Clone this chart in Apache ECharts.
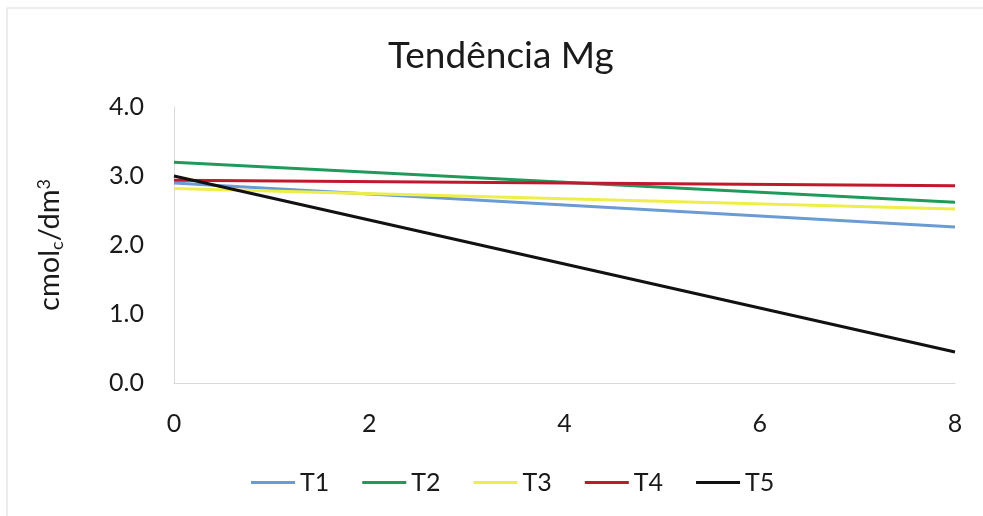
<!DOCTYPE html>
<html>
<head>
<meta charset="utf-8">
<script src="https://cdn.jsdelivr.net/npm/echarts@6/dist/echarts.min.js"></script>
<style>
html,body{margin:0;padding:0;background:#fff;}
#c{width:983px;height:516px;}
</style>
</head>
<body>
<div id="c"></div>
<script>
const xValues = [0, 8];
const seriesNames = ['T1', 'T2', 'T3', 'T4', 'T5'];
const t1 = [2.90, 2.26];
const t2 = [3.20, 2.62];
const t3 = [2.82, 2.52];
const t4 = [2.94, 2.86];
const t5 = [3.00, 0.45];
const colors = ['#6a9bd3', '#1f9a5a', '#eeee48', '#c0182c', '#111111'];
const allValues = [t1, t2, t3, t4, t5];

const chart = echarts.init(document.getElementById('c'), null, {renderer: 'canvas'});
const font = 'Lato, "Open Sans", sans-serif';
const txt = '#1a1a1a';
const option = {
  backgroundColor: '#ffffff',
  animation: false,
  title: {
    text: 'Tendência Mg',
    left: 383,
    top: 33,
    textStyle: {fontFamily: font, fontSize: 37, fontWeight: 'normal', color: txt}
  },
  legend: {
    bottom: 16,
    left: 246,
    itemWidth: 44,
    itemHeight: 3,
    itemGap: 33,
    icon: 'rect',
    textStyle: {fontFamily: font, fontSize: 25, color: txt},
    data: seriesNames
  },
  grid: {left: 174, right: 28, top: 107, bottom: 133},
  xAxis: {
    type: 'value', min: 0, max: 8, interval: 2,
    axisLine: {show: true, lineStyle: {color: '#d9d9d9', width: 1}},
    axisTick: {show: false},
    splitLine: {show: false},
    axisLabel: {fontFamily: font, fontSize: 25, color: txt, margin: 28}
  },
  yAxis: {
    type: 'value', min: 0, max: 4, interval: 1,
    axisLine: {show: true, lineStyle: {color: '#d9d9d9', width: 1}},
    axisTick: {show: false},
    splitLine: {show: false},
    axisLabel: {fontFamily: font, fontSize: 25, color: txt, margin: 30, formatter: v => v.toFixed(1)},
    name: '{a|cmol}{sub|c}{a|/dm}{sup|3}',
    nameLocation: 'middle',
    nameRotate: 90,
    nameGap: 108,
    nameTextStyle: {
      fontFamily: font, fontSize: 29, color: txt,
      rich: {
        a: {fontFamily: font, fontSize: 29, color: txt},
        sub: {fontFamily: font, fontSize: 18, color: txt, padding: [14, 0, 0, 0]},
        sup: {fontFamily: font, fontSize: 18, color: txt, padding: [0, 0, 12, 0]}
      }
    }
  },
  graphic: [
    {type: 'line', shape: {x1: 7, y1: 8, x2: 7, y2: 516}, style: {stroke: '#d9d9d9', lineWidth: 1}},
    {type: 'line', shape: {x1: 7, y1: 8, x2: 983, y2: 8}, style: {stroke: '#d9d9d9', lineWidth: 1}}
  ],
  series: seriesNames.map((n, i) => ({
    name: n,
    type: 'line',
    data: xValues.map((x, j) => [x, allValues[i][j]]),
    showSymbol: false,
    symbol: 'none',
    lineStyle: {color: colors[i], width: 3},
    itemStyle: {color: colors[i]}
  }))
};
chart.setOption(option);
</script>
</body>
</html>
